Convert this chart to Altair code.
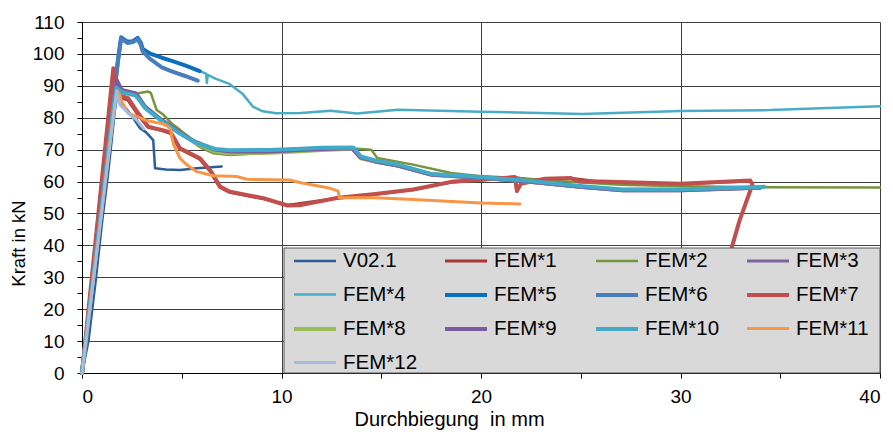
import altair as alt
import pandas as pd

series = ["V02.1", "FEM*1", "FEM*2", "FEM*3", "FEM*4", "FEM*5", "FEM*6",
          "FEM*7", "FEM*8", "FEM*9", "FEM*10", "FEM*11", "FEM*12"]
colors = ["#2E5E99", "#A83A36", "#77933C", "#8064A2", "#4BACC6", "#0B6FBF", "#4A7EBB",
          "#C0504D", "#9BBB59", "#7A5BA0", "#42A9C8", "#F79646", "#A3BCDD"]
widths = [2.5, 3, 2.5, 3, 2.5, 4, 4, 4, 4, 4, 4, 3, 3]

v021_x = [0, 0.33, 0.70, 1.00, 1.30, 1.65, 1.78, 2.00, 2.50, 2.91, 3.20, 3.57, 3.66, 4.20, 4.91, 5.75, 7.00]
v021_y = [0, 10.3, 29.7, 47.0, 62.0, 82.4, 87.5, 84.5, 80.5, 76.7, 75.5, 73.0, 64.2, 63.8, 63.6, 64.2, 64.7]

fem1_x = [0, 1.55, 1.80, 2.30, 2.80, 3.30, 4.00, 4.45, 4.90, 5.90, 6.40, 6.90, 7.40, 9.10, 10.30, 12.80,
          14.70, 16.60, 18.50, 20.00, 21.70, 22.50, 24.50, 26.00, 30.00, 33.50]
fem1_y = [0, 94.0, 86.5, 85.5, 81.0, 77.0, 76.0, 75.0, 70.2, 67.0, 63.4, 58.2, 56.6, 54.6, 52.6, 54.8,
          56.0, 57.4, 59.8, 60.5, 61.3, 60.5, 61.0, 59.9, 59.2, 60.2]

fem2_x = [0, 1.70, 1.85, 2.16, 2.82, 3.32, 3.45, 3.74, 4.07, 4.49, 4.91, 5.33, 5.75, 6.00, 6.58, 7.42,
          10.40, 12.00, 13.80, 14.50, 14.80, 16.60, 18.50, 20.00, 22.00, 24.10, 27.00, 30.00, 34.00, 40.00]
fem2_y = [0, 87.0, 89.5, 88.2, 87.7, 88.2, 87.8, 82.4, 81.0, 78.2, 76.2, 74.1, 71.5, 70.5, 68.9, 68.3,
          69.4, 69.9, 70.3, 70.0, 67.4, 65.3, 62.7, 61.7, 61.0, 60.1, 59.0, 58.5, 58.2, 58.1]

fem3_x = [0, 1.55, 1.76, 1.99, 2.66, 2.82, 3.16, 3.99, 4.82, 5.66, 6.67, 7.42, 9.40, 10.96, 12.00,
          13.55, 13.95, 14.70, 15.85, 17.50, 20.00, 22.20, 25.10, 27.10, 30.00, 34.00]
fem3_y = [0, 83.0, 91.0, 88.5, 87.5, 86.4, 83.3, 79.1, 75.5, 72.3, 69.8, 69.2, 69.2, 69.7, 70.0,
          70.2, 67.4, 66.1, 64.8, 62.0, 61.0, 59.9, 58.1, 57.1, 57.1, 57.9]

fem4_x = [0, 1.80, 1.96, 2.29, 2.55, 2.79, 2.95, 3.04, 3.38, 4.00, 4.50, 5.20, 5.90, 6.22, 6.26, 6.30,
          6.72, 7.39, 8.06, 8.56, 9.06, 9.73, 10.96, 12.46, 13.78, 15.85, 20.00, 25.06, 30.00, 34.50, 40.00]
fem4_y = [0, 98.0, 105.2, 103.8, 104.0, 105.0, 103.5, 101.6, 100.2, 98.8, 97.8, 96.3, 94.6, 93.8, 90.9, 93.4,
          92.2, 90.6, 87.4, 83.5, 82.0, 81.4, 81.5, 82.2, 81.3, 82.5, 81.9, 81.2, 82.1, 82.4, 83.6]

fem5_x = [0, 1.80, 1.96, 2.29, 2.55, 2.79, 2.95, 3.04, 3.38, 4.00, 4.50, 5.20, 5.90]
fem5_y = [0, 98.0, 105.2, 103.8, 104.0, 105.0, 103.5, 101.6, 100.2, 98.8, 97.8, 96.3, 94.6]

fem6_x = [0, 1.80, 1.96, 2.29, 2.55, 2.79, 2.95, 3.04, 3.38, 4.00, 4.50, 5.20, 5.80]
fem6_y = [0, 97.5, 104.8, 103.4, 103.7, 104.6, 102.8, 100.8, 98.6, 95.8, 94.5, 93.0, 91.6]

fem7_x = [0, 1.57, 1.82, 2.32, 2.82, 3.32, 3.99, 4.45, 4.91, 5.91, 6.42, 6.92, 7.42, 9.09, 9.92, 10.30,
          10.96, 12.84, 14.70, 16.60, 18.50, 20.00, 21.70, 21.80, 22.00, 23.20, 24.50, 24.96, 26.00,
          30.00, 33.50, 33.60, 32.95, 32.60, 32.10]
fem7_y = [0, 95.5, 87.1, 86.1, 81.4, 77.2, 76.2, 75.4, 70.4, 67.3, 63.6, 58.4, 56.8, 54.8, 53.2, 52.5,
          52.6, 54.9, 56.1, 57.5, 59.9, 60.6, 61.4, 57.0, 59.3, 60.9, 61.1, 60.0, 60.0,
          59.3, 60.3, 59.0, 47.6, 40.0, 28.0]

fem8_x = [0, 1.55, 1.72, 1.99, 2.66, 2.82, 3.16, 3.99, 4.82, 5.66, 6.67, 7.42, 9.40, 10.96, 12.00,
          13.60, 14.00, 14.70, 15.85, 17.50, 20.00, 22.20, 25.10, 27.10, 30.00, 34.00]
fem8_y = [0, 82.5, 90.3, 88.2, 87.6, 86.4, 83.2, 79.3, 75.6, 72.2, 69.4, 68.9, 69.0, 69.5, 69.9,
          70.3, 67.2, 66.4, 65.0, 62.3, 61.2, 60.1, 58.3, 57.4, 57.4, 58.1]

fem9_x = [0, 1.55, 1.74, 1.99, 2.66, 2.82, 3.16, 3.99, 4.82, 5.66, 6.67, 7.42, 9.40, 10.96, 12.00,
          13.55, 13.95, 14.70, 15.85, 17.50, 20.00, 22.20, 25.10, 27.10, 30.00, 34.00]
fem9_y = [0, 83.0, 91.8, 88.7, 87.7, 86.6, 83.5, 79.3, 75.7, 72.5, 70.0, 69.4, 69.4, 69.9, 70.2,
          70.4, 67.6, 66.3, 65.0, 62.2, 61.2, 60.1, 58.3, 57.3, 57.3, 58.1]

fem10_x = [0, 1.55, 1.72, 1.99, 2.66, 2.82, 3.16, 3.99, 4.82, 5.66, 6.67, 7.42, 9.40, 10.96, 12.00,
           13.60, 13.97, 14.70, 15.85, 17.50, 20.00, 22.20, 25.10, 27.10, 30.00, 31.60, 34.00, 34.20]
fem10_y = [0, 82.0, 89.5, 88.0, 87.0, 86.0, 83.0, 79.0, 75.4, 72.3, 70.2, 69.8, 69.9, 70.3, 70.6,
           70.7, 67.9, 66.6, 65.3, 62.4, 61.4, 60.3, 58.5, 57.5, 57.5, 57.8, 58.3, 58.4]

fem11_x = [0, 1.55, 1.75, 1.90, 1.99, 2.32, 2.70, 3.16, 3.70, 3.99, 4.30, 4.45, 4.50, 4.60, 4.91, 5.30,
           5.75, 6.58, 7.75, 8.26, 10.40, 10.96, 12.37, 12.84, 12.90, 14.70, 16.60, 20.00, 21.95]
fem11_y = [0, 80.0, 88.5, 87.1, 85.0, 81.4, 80.5, 79.3, 78.5, 78.2, 77.3, 76.4, 74.0, 71.5, 67.3, 65.0,
           63.1, 61.8, 61.6, 60.7, 60.5, 59.6, 58.0, 57.0, 54.9, 54.9, 54.4, 53.3, 53.0]

fem12_x = [0, 1.55, 1.74, 1.90, 2.41, 2.74, 3.10]
fem12_y = [0, 79.0, 88.2, 84.0, 80.9, 79.3, 76.5]

xs = [v021_x, fem1_x, fem2_x, fem3_x, fem4_x, fem5_x, fem6_x, fem7_x, fem8_x, fem9_x, fem10_x, fem11_x, fem12_x]
ys = [v021_y, fem1_y, fem2_y, fem3_y, fem4_y, fem5_y, fem6_y, fem7_y, fem8_y, fem9_y, fem10_y, fem11_y, fem12_y]

rows = []
for name, xv, yv in zip(series, xs, ys):
    for i, (a, b) in enumerate(zip(xv, yv)):
        rows.append({"series": name, "x": a, "y": b, "i": i})
df = pd.DataFrame(rows)

FONT = "Liberation Sans"
W, H = 798, 351

lines = alt.Chart(df).mark_line(strokeJoin="round", strokeCap="round").encode(
    x=alt.X("x:Q", title="Durchbiegung\u00a0 in mm",
            scale=alt.Scale(domain=[0, 40], nice=False),
            axis=alt.Axis(values=list(range(0, 41, 5)), titleX=367,
                          labelExpr="datum.value % 10 === 0 ? datum.label : ''",
                          gridOpacity={"condition": {"test": "datum.value % 10 === 0", "value": 1}, "value": 0})),
    y=alt.Y("y:Q", title="Kraft in kN",
            scale=alt.Scale(domain=[0, 110], nice=False),
            axis=alt.Axis(values=list(range(0, 111, 5)), titleY=221,
                          labelExpr="datum.value % 10 === 0 ? datum.label : ''",
                          gridOpacity={"condition": {"test": "datum.value % 10 === 0", "value": 1}, "value": 0})),
    color=alt.Color("series:N", title=None,
                    scale=alt.Scale(domain=series, range=colors),
                    legend=alt.Legend(orient="none", legendX=210, legendY=216, columns=4,
                                      direction="horizontal",
                                      symbolType="stroke", symbolSize=1764, symbolStrokeWidth=3,
                                      labelFont=FONT, labelFontSize=20.5, labelColor="#000",
                                      padding=0, rowPadding=-4, columnPadding=19, gridAlign="all",
                                      labelOffset=5, labelLimit=200)),
    strokeWidth=alt.StrokeWidth("series:N", title=None,
                                scale=alt.Scale(type="ordinal", domain=series, range=widths), legend=None),
    order=alt.Order("i:Q"),
)

legend_box = alt.Chart(pd.DataFrame({"k": [0]})).mark_rect(
    fill="#d9d9d9", stroke="#595959", strokeWidth=1
).encode(x=alt.value(202), x2=alt.value(W), y=alt.value(226), y2=alt.value(H))

chart = alt.layer(lines, legend_box).properties(
    width=W, height=H,
    autosize=alt.AutoSizeParams(type="none"),
    padding={"left": 74, "top": 14, "right": 5, "bottom": 60},
    background="white",
).configure_axis(
    labelFont=FONT, labelFontSize=19, labelColor="#000",
    titleFont=FONT, titleFontSize=18.5, titleColor="#000", titleFontWeight="normal",
    domainColor="#000", domainWidth=1, tickColor="#000", tickSize=5,
    gridColor="#404040", gridWidth=1,
).configure_axisY(titlePadding=4, labelPadding=13).configure_axisX(
    titlePadding=3, labelPadding=9, titleFontSize=20
).configure_view(
    stroke=None
)

chart.save("out.html", embed_options={"renderer": "svg", "actions": False})
